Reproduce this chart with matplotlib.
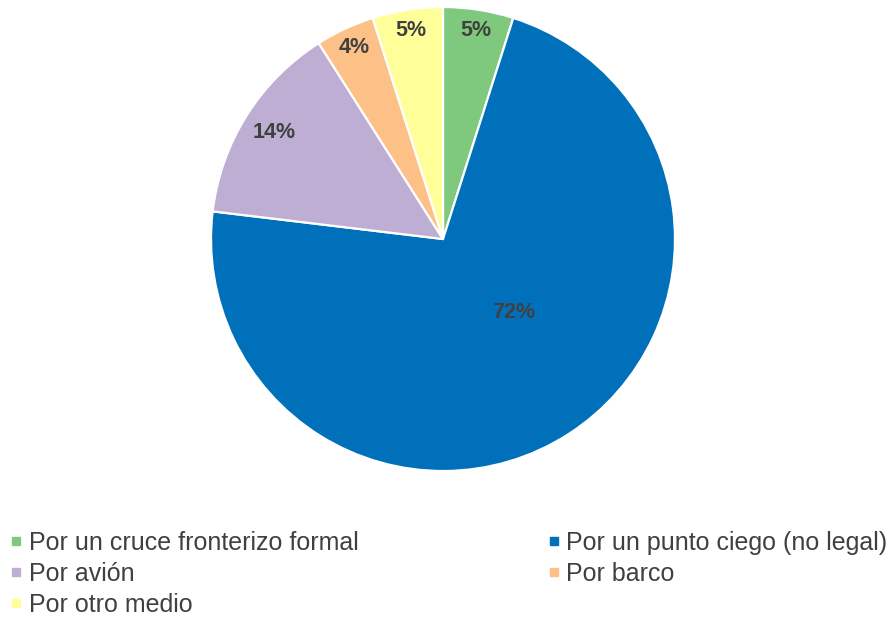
import numpy as np
import matplotlib
matplotlib.use("Agg")
import matplotlib.pyplot as plt
from matplotlib.lines import Line2D

plt.rcParams['font.family'] = ['Liberation Sans', 'DejaVu Sans']

categories = ["Por un cruce fronterizo formal", "Por un punto ciego (no legal)",
              "Por avión", "Por barco", "Por otro medio"]
values = [4.9, 72.0, 14.1, 4.1, 4.9]
pct_labels = ["5%", "72%", "14%", "4%", "5%"]
colors = ["#7FC97F", "#0070BB", "#BEAED4", "#FDC086", "#FFFF99"]
# label placement (fraction of radius, angle shift in degrees)
label_r = [0.91, 0.44, 0.86, 0.91, 0.91]
label_shift = [0, 11, 0, 0, 0]

fig = plt.figure(figsize=(8.91, 6.17), dpi=100)
ax = fig.add_axes([0.2368, 0.2366, 0.5208, 0.752])
wedges, _ = ax.pie(values, colors=colors, startangle=90, counterclock=False,
                   radius=1.0, wedgeprops=dict(edgecolor="white", linewidth=1.6))
ax.set_xlim(-1, 1)
ax.set_ylim(-1, 1)
ax.set_aspect("equal")

for w, lab, r, sh in zip(wedges, pct_labels, label_r, label_shift):
    mid = np.deg2rad((w.theta1 + w.theta2) / 2 + sh)
    ax.text(r * np.cos(mid), r * np.sin(mid), lab, ha="center", va="center",
            fontsize=15.5, fontweight="bold", color="#404040")

order = [0, 2, 4, 1, 3]
handles = [Line2D([], [], marker="s", linestyle="none", markersize=6,
                  markerfacecolor=colors[i], markeredgecolor=colors[i]) for i in order]
labels = [categories[i] for i in order]
fig.legend(handles, labels, ncol=2, loc="upper left", bbox_to_anchor=(0.004, 0.1515),
           frameon=False, fontsize=18, handlelength=0.4, handletextpad=0.3,
           columnspacing=7.62, labelspacing=0.28, borderaxespad=0, borderpad=0.3,
           labelcolor="#404040")

fig.savefig("out.png", dpi=100)
